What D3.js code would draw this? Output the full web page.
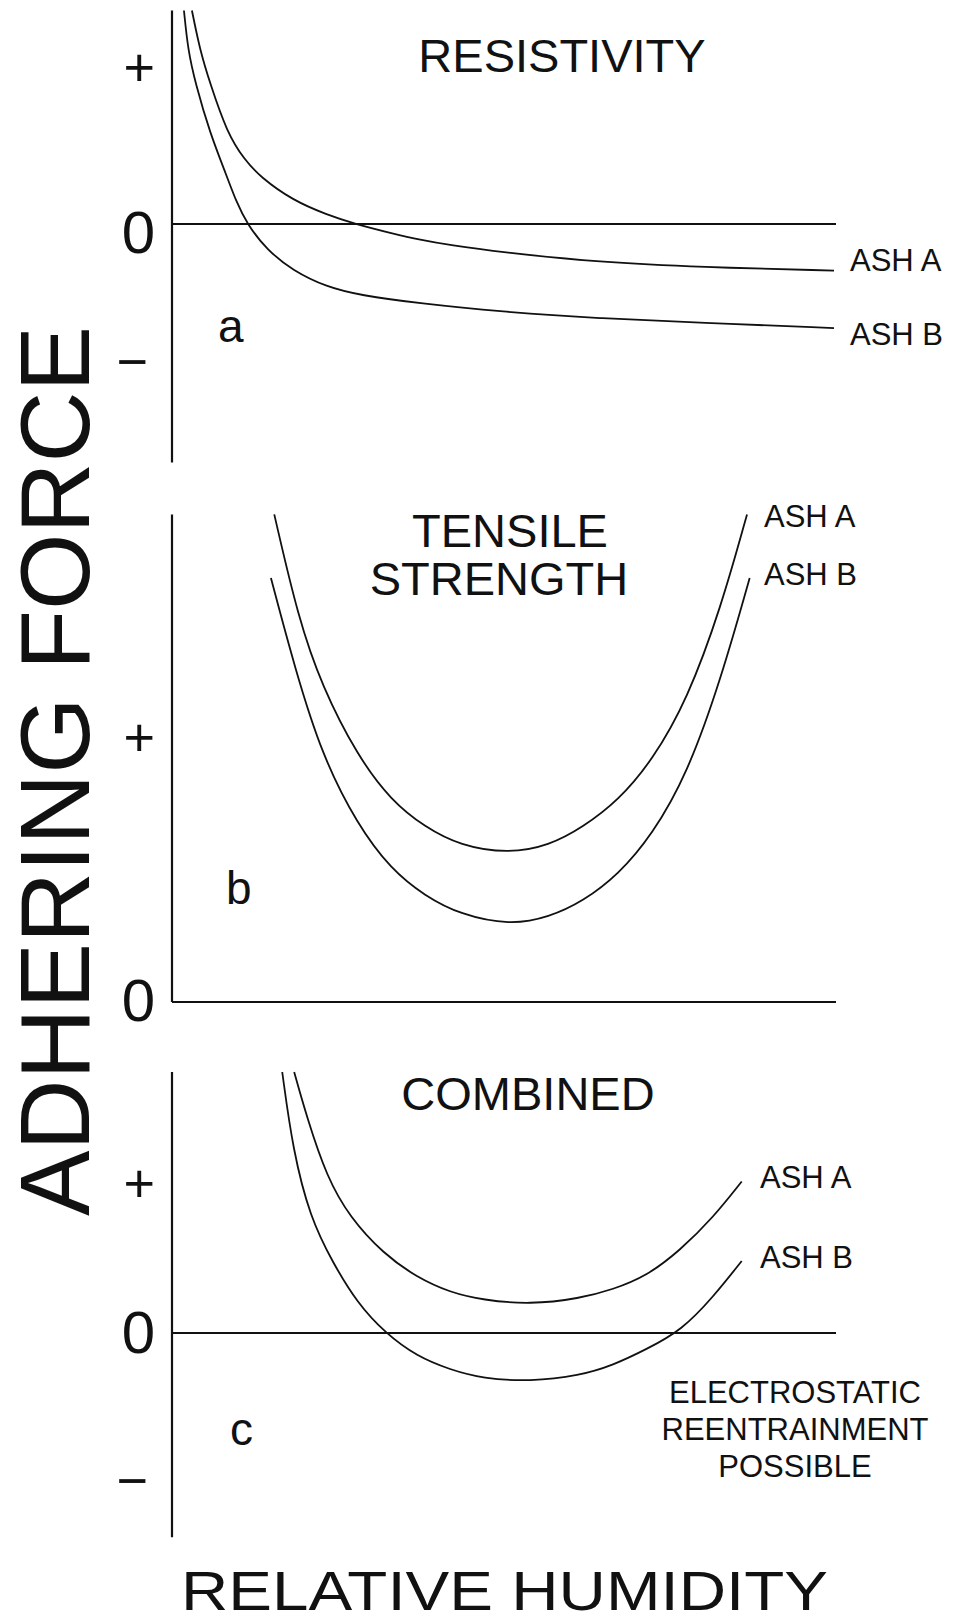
<!DOCTYPE html>
<html>
<head>
<meta charset="utf-8">
<script src="https://cdn.jsdelivr.net/npm/d3@7"></script>
<style>
  body { margin: 0; background: #fff; }
  text { font-family: "Liberation Sans", Arial, Helvetica, sans-serif; fill: #111; }
</style>
</head>
<body>
<script>
// relative humidity in arbitrary units (0 = axis, 100 = end of zero line)
const humidityDomain = [0, 100];
const tickValues = [-1, 0, 1];
const tickLabels = { "-1": "\u2212", "0": "0", "1": "+" };

// panel a - resistivity, [humidity, force]
const resistAshA = [[3.0,1.36],[4.2,1.11],[5.7,0.90],[8.3,0.58],[10.9,0.41],[13.3,0.30],
  [18.2,0.15],[23.3,0.06],[27.6,0],[33.3,-0.07],[37.3,-0.115],[41.9,-0.155],[49.4,-0.205],
  [64.5,-0.28],[79.5,-0.315],[99.7,-0.34]];
const resistAshB = [[1.8,1.36],[2.4,1.11],[3.5,0.90],[5.7,0.58],[8.3,0.30],[9.6,0.15],
  [11.3,0],[14.3,-0.19],[18.2,-0.34],[23.3,-0.46],[28.3,-0.52],[37.3,-0.58],[49.4,-0.64],
  [64.5,-0.69],[79.5,-0.72],[99.7,-0.76]];
const resistExtent = [-1.74, 1.36];

// panel b - tensile strength
const tensileAshA = [[15.4,1.84],[19.0,1.45],[22.6,1.19],[27.9,0.93],[33.0,0.76],[38.1,0.66],
  [43.4,0.59],[50.6,0.56],[56.8,0.59],[61.9,0.66],[67.2,0.76],[72.3,0.91],[77.6,1.14],
  [82.7,1.49],[86.6,1.84]];
const tensileAshB = [[14.9,1.60],[18.5,1.26],[22.6,0.93],[27.9,0.67],[33.0,0.50],[38.1,0.40],
  [43.4,0.33],[50.9,0.29],[56.8,0.32],[61.9,0.38],[67.2,0.48],[72.3,0.63],[77.6,0.86],
  [82.7,1.22],[87.0,1.60]];
const tensileExtent = [0, 1.84];

// panel c - combined
const combinedAshA = [[18.4,1.74],[20.3,1.44],[23.3,1.04],[26.8,0.77],[31.8,0.53],[36.9,0.37],
  [41.9,0.27],[46.8,0.22],[53.9,0.19],[61.4,0.23],[66.4,0.29],[71.5,0.38],[76.5,0.55],
  [81.5,0.77],[85.8,1.01]];
const combinedAshB = [[16.6,1.74],[18.2,1.22],[20.8,0.77],[24.2,0.47],[27.9,0.20],[32.1,0],
  [36.9,-0.16],[41.9,-0.25],[46.8,-0.31],[53.9,-0.33],[61.4,-0.29],[66.4,-0.22],[71.5,-0.11],
  [76.8,0.02],[81.5,0.24],[85.8,0.48]];
const combinedExtent = [-1.39, 1.74];

const W = 955, H = 1623;

const svg = d3.select("body")
  .append("svg")
  .attr("width", W)
  .attr("height", H);

svg.append("rect").attr("width", W).attr("height", H).attr("fill", "#fff");

const x = d3.scaleLinear().domain(humidityDomain).range([172, 836]);

const yA = d3.scaleLinear().domain([-1, 0, 1]).range([361, 224, 67]);
const yB = d3.scaleLinear().domain([0, 1]).range([1002, 737]);
const yC = d3.scaleLinear().domain([-1, 0, 1]).range([1480, 1333, 1183]);

function drawPanel(p) {
  let g = svg.append("g");
  let y = p.y;

  // vertical axis
  g.append("line")
    .attr("x1", x(0)).attr("x2", x(0))
    .attr("y1", y(p.extent[0])).attr("y2", y(p.extent[1]))
    .attr("stroke", "#111").attr("stroke-width", 2.2);

  // zero line
  g.append("line")
    .attr("x1", x(0)).attr("x2", x(100))
    .attr("y1", y(0)).attr("y2", y(0))
    .attr("stroke", "#111").attr("stroke-width", 2.2);

  // +, 0, - labels
  let ax = g.append("g")
    .attr("transform", "translate(" + x(0) + ",0)")
    .call(d3.axisLeft(y)
      .tickValues(p.ticks)
      .tickFormat(d => tickLabels[d])
      .tickSize(0)
      .tickPadding(17));
  ax.select(".domain").remove();
  ax.selectAll("text")
    .style("font-size", d => d === 0 ? "60px" : "54px")
    .attr("dy", d => d === 0 ? p.zeroDy : "0.34em")
    .attr("x", d => d < 0 ? -24 : -17);

  let line = d3.line()
    .x(d => x(d[0]))
    .y(d => y(d[1]))
    .curve(d3.curveBasis);

  g.selectAll("path.curve")
    .data([p.ashA, p.ashB])
    .enter()
    .append("path")
    .attr("class", "curve")
    .attr("d", line)
    .attr("fill", "none")
    .attr("stroke", "#111")
    .attr("stroke-width", 1.8);

  // titles
  p.titles.forEach(t => {
    g.append("text")
      .attr("x", t.x).attr("y", t.y)
      .attr("text-anchor", "middle")
      .style("font-size", "47px")
      .text(t.text);
  });

  // series labels
  p.labels.forEach(t => {
    g.append("text")
      .attr("x", t.x).attr("y", t.y)
      .style("font-size", "31px")
      .text(t.text);
  });

  g.append("text")
    .attr("x", p.letter[0]).attr("y", p.letter[1])
    .style("font-size", "46px")
    .text(p.id);
}

drawPanel({
  id: "a", y: yA, extent: resistExtent, ticks: tickValues, zeroDy: "0.48em",
  ashA: resistAshA, ashB: resistAshB,
  titles: [{ text: "RESISTIVITY", x: 562, y: 72 }],
  labels: [{ text: "ASH A", x: 850, y: 271 }, { text: "ASH B", x: 850, y: 345 }],
  letter: [218, 342]
});

drawPanel({
  id: "b", y: yB, extent: tensileExtent, ticks: [0, 1], zeroDy: "0.30em",
  ashA: tensileAshA, ashB: tensileAshB,
  titles: [{ text: "TENSILE", x: 510, y: 547 }, { text: "STRENGTH", x: 499, y: 595 }],
  labels: [{ text: "ASH A", x: 764, y: 527 }, { text: "ASH B", x: 764, y: 585 }],
  letter: [226, 904]
});

drawPanel({
  id: "c", y: yC, extent: combinedExtent, ticks: tickValues, zeroDy: "0.32em",
  ashA: combinedAshA, ashB: combinedAshB,
  titles: [{ text: "COMBINED", x: 528, y: 1110 }],
  labels: [{ text: "ASH A", x: 760, y: 1188 }, { text: "ASH B", x: 760, y: 1268 }],
  letter: [230, 1445]
});

// note under the combined panel
const noteLines = ["ELECTROSTATIC", "REENTRAINMENT", "POSSIBLE"];
svg.append("g")
  .selectAll("text")
  .data(noteLines)
  .enter()
  .append("text")
  .attr("x", 795)
  .attr("y", (d, i) => 1403 + i * 37)
  .attr("text-anchor", "middle")
  .style("font-size", "31px")
  .text(d => d);

// axis titles
svg.append("text")
  .attr("transform", "translate(89,771) rotate(-90)")
  .attr("text-anchor", "middle")
  .attr("textLength", 890)
  .attr("lengthAdjust", "spacingAndGlyphs")
  .style("font-size", "98px")
  .text("ADHERING FORCE");

svg.append("text")
  .attr("x", 181)
  .attr("y", 1610)
  .attr("textLength", 647)
  .attr("lengthAdjust", "spacingAndGlyphs")
  .style("font-size", "56px")
  .text("RELATIVE HUMIDITY");
</script>
</body>
</html>
